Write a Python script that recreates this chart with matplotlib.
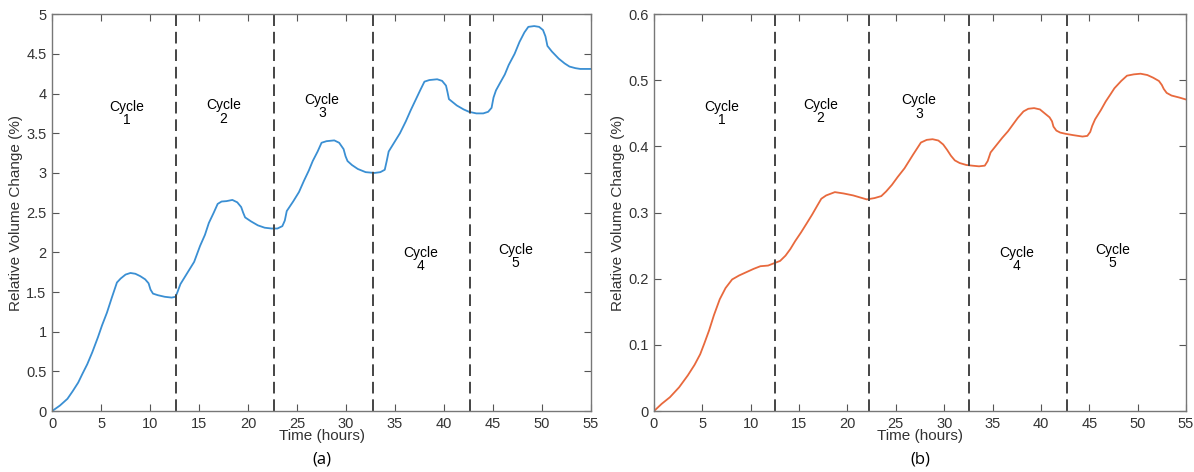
import numpy as np
import matplotlib
matplotlib.use("Agg")
import matplotlib.pyplot as plt

plt.rcParams['font.family'] = ['Liberation Sans', 'DejaVu Sans']

# (a) relative volume change, percent
hours_a = [0, 0.8, 1.57, 2.1, 2.67, 3.1, 3.59, 4.1, 4.68, 5.1, 5.6, 6.1, 6.62, 7.0,
           7.5, 8.0, 8.5, 9.0, 9.5, 9.85, 10.05, 10.3, 10.8, 11.5, 12.2, 12.6,
           12.8, 13.1, 13.6, 14.0, 14.5, 15.1, 15.6, 16.0, 16.5, 16.9, 17.3, 17.8,
           18.4, 18.9, 19.3, 19.5, 19.7, 20.3, 21.0, 21.7, 22.4, 23.0, 23.5, 23.75,
           23.95, 24.6, 25.2, 25.7, 26.2, 26.6, 27.1, 27.5, 28.0, 28.8, 29.3, 29.75,
           29.95, 30.15, 30.6, 31.2, 32.0, 32.9, 33.5, 33.95, 34.15, 34.35, 34.9,
           35.5, 36.1, 36.6, 37.1, 37.6, 38.0, 38.5, 39.3, 39.8, 40.2, 40.35, 40.5,
           41.3, 42.0, 42.55, 43.3, 44.0, 44.5, 44.85, 45.05, 45.3, 45.7, 46.2, 46.6,
           47.2, 47.7, 48.2, 48.6, 49.2, 49.7, 50.1, 50.35, 50.55, 51.0, 51.7,
           52.3, 52.8, 53.4, 53.9, 55]
vol_a = [0, 0.07, 0.155, 0.25, 0.36, 0.47, 0.59, 0.74, 0.93, 1.08, 1.24, 1.43, 1.62,
         1.67, 1.72, 1.74, 1.73, 1.70, 1.66, 1.61, 1.53, 1.48, 1.46, 1.44, 1.43, 1.44,
         1.50, 1.60, 1.70, 1.78, 1.88, 2.08, 2.22, 2.37, 2.50, 2.61, 2.64, 2.645,
         2.66, 2.63, 2.57, 2.50, 2.44, 2.39, 2.34, 2.31, 2.30, 2.30, 2.33, 2.40,
         2.52, 2.64, 2.76, 2.90, 3.03, 3.15, 3.27, 3.38, 3.40, 3.41, 3.38, 3.30,
         3.21, 3.15, 3.10, 3.05, 3.01, 3.0, 3.01, 3.04, 3.15, 3.27, 3.38,
         3.50, 3.65, 3.79, 3.92, 4.05, 4.15, 4.17, 4.18, 4.16, 4.10, 4.02, 3.93,
         3.85, 3.80, 3.77, 3.75, 3.75, 3.77, 3.82, 3.95, 4.04, 4.13, 4.24, 4.36,
         4.50, 4.65, 4.77, 4.84, 4.85, 4.84, 4.80, 4.72, 4.60, 4.53, 4.44,
         4.38, 4.34, 4.32, 4.31, 4.31]

# (b) relative volume change, percent
hours_b = [0, 0.8, 1.65, 2.6, 3.5, 4.2, 4.78, 5.2, 5.7, 6.2, 6.8, 7.4, 8.08, 8.8,
           9.55, 10.3, 11.0, 11.8, 12.5, 13.04, 13.6, 14.1, 14.6, 15.2, 15.8,
           16.35, 16.9, 17.3, 17.8, 18.7, 19.6, 20.6, 21.3, 22.0, 22.8, 23.5,
           24.0, 24.6, 25.2, 25.9, 26.8, 27.6, 28.2, 28.8, 29.4, 29.9, 30.3, 30.7,
           31.1, 31.6, 32.3, 32.9, 33.6, 34.2, 34.5, 34.8, 35.4, 36.0, 36.6, 37.1,
           37.6, 38.2, 38.7, 39.3, 39.9, 40.4, 40.9, 41.15, 41.3, 41.6, 42.0, 42.6,
           43.4, 44.3, 44.8, 45.1, 45.3, 45.6, 46.2, 46.7, 47.2, 47.6, 48.3, 48.9,
           49.6, 50.3, 51.0, 51.6, 52.2, 52.5, 52.7, 53.0, 53.5, 54.3, 55]
vol_b = [0, 0.011, 0.021, 0.036, 0.054, 0.070, 0.086, 0.102, 0.122, 0.145, 0.169,
         0.186, 0.199, 0.205, 0.210, 0.215, 0.219, 0.220, 0.224, 0.227, 0.235,
         0.245, 0.257, 0.270, 0.284, 0.297, 0.311, 0.321, 0.326, 0.331, 0.329,
         0.326, 0.323, 0.320, 0.322, 0.325, 0.332, 0.342, 0.354, 0.367, 0.388,
         0.406, 0.410, 0.411, 0.409, 0.403, 0.395, 0.386, 0.379, 0.375, 0.372,
         0.371, 0.370, 0.371, 0.378, 0.391, 0.402, 0.413, 0.423, 0.433,
         0.443, 0.453, 0.457, 0.458, 0.456, 0.450, 0.444, 0.438, 0.430, 0.424,
         0.421, 0.419, 0.417, 0.415, 0.416, 0.422, 0.431, 0.441, 0.455, 0.468,
         0.479, 0.488, 0.499, 0.507, 0.509, 0.510, 0.508, 0.504, 0.499, 0.493,
         0.487, 0.481, 0.477, 0.474, 0.471]

cycle_ends_a = [12.6, 22.6, 32.75, 42.65]
cycle_ends_b = [12.5, 22.2, 32.6, 42.7]

labels = ["Cycle\n1", "Cycle\n2", "Cycle\n3", "Cycle\n4", "Cycle\n5"]
label_x_a = [7.6, 17.5, 27.55, 37.6, 47.3]
label_y_a = [3.75, 3.77, 3.84, 1.91, 1.95]
label_x_b = [7.0, 17.2, 27.4, 37.5, 47.4]
label_y_b = [0.450, 0.453, 0.460, 0.229, 0.234]

fig = plt.figure(figsize=(11.94, 4.72), dpi=100)
ax1 = fig.add_axes([0.0436, 0.129, 0.4514, 0.841])
ax2 = fig.add_axes([0.5477, 0.129, 0.4456, 0.841])

panels = [
    (ax1, hours_a, vol_a, '#3a8fd3', cycle_ends_a, label_x_a, label_y_a, 5, np.arange(0, 5.01, 0.5), "(a)"),
    (ax2, hours_b, vol_b, '#e8693d', cycle_ends_b, label_x_b, label_y_b, 0.6, np.arange(0, 0.61, 0.1), "(b)"),
]

for ax, x, y, col, ends, lx, ly, ymax, yt, tag in panels:
    ax.plot(x, y, color=col, lw=1.3, solid_joinstyle='round')
    for e in ends:
        ax.axvline(e, color='#444444', ls=(0, (6, 3)), lw=1.4)
    for t, tx, ty in zip(labels, lx, ly):
        ax.text(tx, ty, t, ha='center', va='center', fontsize=10, linespacing=0.95)
    ax.set_xlim(0, 55)
    ax.set_ylim(0, ymax)
    ax.set_xticks(np.arange(0, 56, 5))
    ax.set_yticks(yt)
    ax.set_yticklabels(['%g' % v for v in yt])
    ax.tick_params(direction='in', top=True, right=True, length=5, width=0.8,
                   colors='#555555', labelcolor='#333333', labelsize=10.5, pad=4)
    for s in ax.spines.values():
        s.set_color('#777777')
        s.set_linewidth(1.0)
    ax.set_xlabel("Time (hours)", fontsize=11, color='#333333', labelpad=-1)
    ax.set_ylabel("Relative Volume Change (%)", fontsize=11, color='#333333', labelpad=2)
    ax.text(0.5, -0.123, tag, transform=ax.transAxes, ha='center', va='center',
            fontsize=12, family=['Open Sans', 'DejaVu Sans'])

fig.savefig("out.png", dpi=100)
